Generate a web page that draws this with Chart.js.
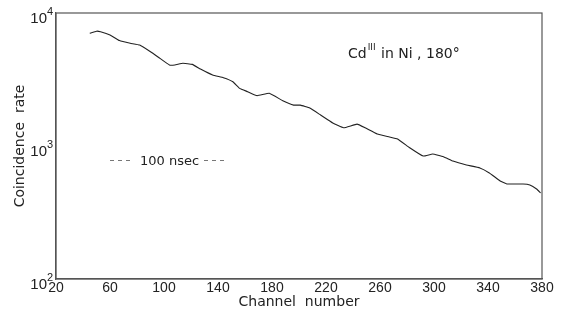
<!DOCTYPE html>
<html>
<head>
<meta charset="utf-8">
<script src="https://cdn.jsdelivr.net/npm/chart.js@4.4.1/dist/chart.umd.min.js"></script>
<style>
  body { margin: 0; background: #fff; }
  #wrap { width: 561px; height: 320px; }
</style>
</head>
<body>
<div id="wrap"><canvas id="chart"></canvas></div>
<script>
// channel numbers and coincidence rates
const channels = [45, 50, 53, 60, 67, 75, 82, 90, 97, 104, 108, 114, 121, 127, 136, 144, 151, 156, 162, 169, 178, 188, 196, 201, 208, 216, 225, 233, 243, 249, 258, 267, 273, 282, 292, 299, 307, 314, 324, 334, 341, 349, 354, 366, 371, 376, 379];
const rates = [7040, 7300, 7230, 6840, 6200, 5920, 5740, 5110, 4560, 4070, 4070, 4190, 4110, 3790, 3420, 3260, 3040, 2710, 2560, 2390, 2490, 2190, 2030, 2030, 1930, 1710, 1490, 1370, 1460, 1370, 1230, 1170, 1130, 970, 840, 870, 830, 770, 720, 684, 627, 546, 518, 518, 509, 475, 444];
const xTicks = [20, 60, 100, 140, 180, 220, 260, 300, 340, 380];
const yTicks = [100, 1000, 10000];
const yExponents = ['2', '3', '4'];

const ink = '#222';

const textPlugin = {
  id: 'texts',
  afterDraw(chart) {
    const ctx = chart.ctx;
    const area = chart.chartArea;
    const y = chart.scales.y;
    ctx.save();
    // frame on top and right
    ctx.strokeStyle = '#555';
    ctx.lineWidth = 1.2;
    ctx.strokeRect(area.left, area.top, area.right - area.left, area.bottom - area.top);

    ctx.fillStyle = ink;
    ctx.textBaseline = 'alphabetic';
    // y tick labels as powers of ten
    yTicks.forEach((v, i) => {
      const py = y.getPixelForValue(v);
      ctx.font = '15px "Liberation Sans"';
      ctx.textAlign = 'right';
      ctx.fillText('10', 47, py + 10);
      ctx.font = '11px "Liberation Sans"';
      ctx.textAlign = 'left';
      ctx.fillText(yExponents[i], 47, py + 2);
    });

    // annotation
    ctx.textAlign = 'left';
    ctx.font = '14px "DejaVu Sans"';
    ctx.fillText('Cd', 348, 58);
    let w = ctx.measureText('Cd').width;
    ctx.font = '9px "DejaVu Sans"';
    ctx.fillText('III', 348 + w + 1, 50);
    let w2 = ctx.measureText('III').width;
    ctx.font = '14px "DejaVu Sans"';
    ctx.fillText(' in Ni , 180°', 348 + w + w2 + 2, 58);

    ctx.font = '13px "DejaVu Sans"';
    ctx.fillText('100 nsec', 140, 165);
    ctx.strokeStyle = '#777';
    ctx.lineWidth = 1;
    ctx.setLineDash([4, 4]);
    ctx.beginPath();
    ctx.moveTo(110, 160.5); ctx.lineTo(130, 160.5);
    ctx.moveTo(204, 160.5); ctx.lineTo(224, 160.5);
    ctx.stroke();
    ctx.restore();
  }
};

new Chart(document.getElementById('chart'), {
  type: 'line',
  data: {
    datasets: [{
      data: channels.map((c, i) => ({ x: c, y: rates[i] })),
      borderColor: ink,
      borderWidth: 1.1,
      pointRadius: 0,
      tension: 0.1,
      fill: false
    }]
  },
  options: {
    responsive: true,
    maintainAspectRatio: false,
    animation: false,
    layout: { padding: { top: 13, right: 19, left: 0, bottom: 0 } },
    plugins: { legend: { display: false }, tooltip: { enabled: false } },
    scales: {
      x: {
        type: 'linear',
        min: 20,
        max: 380,
        afterBuildTicks: (s) => { s.ticks = xTicks.map(v => ({ value: v })); },
        afterFit: (s) => { s.height = 41; },
        grid: { display: false, drawTicks: false },
        border: { display: true, color: '#555', width: 1.2 },
        ticks: { color: ink, font: { family: 'Liberation Sans', size: 14 }, padding: 1, maxRotation: 0 },
        title: {
          display: true,
          text: 'Channel  number',
          color: ink,
          font: { family: 'DejaVu Sans', size: 14 },
          padding: { top: 0, bottom: 9 }
        }
      },
      y: {
        type: 'logarithmic',
        min: 100,
        max: 10000,
        afterBuildTicks: (s) => { s.ticks = yTicks.map(v => ({ value: v })); },
        afterFit: (s) => { s.width = 56; },
        grid: { display: false, drawTicks: false },
        border: { display: true, color: '#555', width: 1.2 },
        ticks: { display: false },
        title: {
          display: true,
          text: 'Coincidence  rate',
          color: ink,
          font: { family: 'DejaVu Sans', size: 14 },
          padding: { top: 12, bottom: 0 }
        }
      }
    }
  },
  plugins: [textPlugin]
});
</script>
</body>
</html>
